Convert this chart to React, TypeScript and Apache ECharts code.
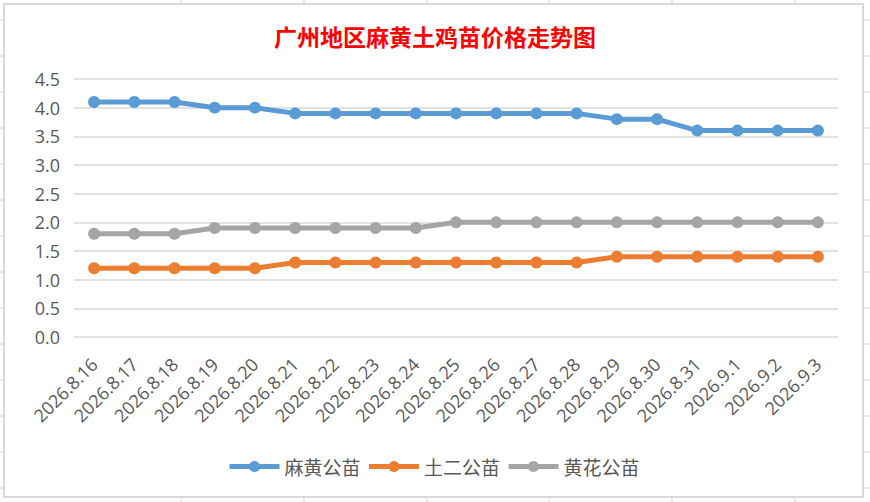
import React, { useEffect, useRef } from "react";
import * as echarts from "echarts";

const categories = [
  "2026.8.16", "2026.8.17", "2026.8.18", "2026.8.19", "2026.8.20", "2026.8.21",
  "2026.8.22", "2026.8.23", "2026.8.24", "2026.8.25", "2026.8.26", "2026.8.27",
  "2026.8.28", "2026.8.29", "2026.8.30", "2026.8.31", "2026.9.1", "2026.9.2", "2026.9.3",
];
const mahuang = [4.1, 4.1, 4.1, 4.0, 4.0, 3.9, 3.9, 3.9, 3.9, 3.9, 3.9, 3.9, 3.9, 3.8, 3.8, 3.6, 3.6, 3.6, 3.6];
const tuer = [1.2, 1.2, 1.2, 1.2, 1.2, 1.3, 1.3, 1.3, 1.3, 1.3, 1.3, 1.3, 1.3, 1.4, 1.4, 1.4, 1.4, 1.4, 1.4];
const huanghua = [1.8, 1.8, 1.8, 1.9, 1.9, 1.9, 1.9, 1.9, 1.9, 2.0, 2.0, 2.0, 2.0, 2.0, 2.0, 2.0, 2.0, 2.0, 2.0];
const seriesNames = ["麻黄公苗", "土二公苗", "黄花公苗"];
const colors = ["#5B9BD5", "#ED7D31", "#A5A5A5"];

const sheetCols = [181, 304, 427, 549, 672, 795];
const sheetRows = [20, 56, 92, 128, 164, 200, 236, 272, 308, 344, 380, 416, 452, 488];

export default function App() {
  const ref = useRef<HTMLDivElement>(null);
  useEffect(() => {
    if (!ref.current) return;
    const chart = echarts.init(ref.current, undefined, { renderer: "svg" });
    const gridLines: any[] = [];
    sheetCols.forEach((x) => {
      gridLines.push({ type: "line", shape: { x1: x, y1: 0, x2: x, y2: 4 }, style: { stroke: "#d4d4d4", lineWidth: 1 } });
      gridLines.push({ type: "line", shape: { x1: x, y1: 498, x2: x, y2: 502 }, style: { stroke: "#d4d4d4", lineWidth: 1 } });
    });
    sheetRows.forEach((y) => {
      gridLines.push({ type: "line", shape: { x1: 0, y1: y, x2: 3, y2: y }, style: { stroke: "#d4d4d4", lineWidth: 1 } });
      gridLines.push({ type: "line", shape: { x1: 864, y1: y, x2: 870, y2: y }, style: { stroke: "#d4d4d4", lineWidth: 1 } });
    });
    const seriesData = [mahuang, tuer, huanghua];
    chart.setOption({
      animation: false,
      backgroundColor: "#ffffff",
      color: colors,
      title: {
        text: "广州地区麻黄土鸡苗价格走势图",
        left: "center",
        top: 19,
        textStyle: { color: "#FF0000", fontSize: 23, fontWeight: "bold", fontFamily: "Noto Sans CJK SC" },
      },
      graphic: [
        ...gridLines,
        { type: "rect", shape: { x: 4, y: 4, width: 859, height: 493 }, style: { fill: "none", stroke: "#d9d9d9", lineWidth: 2 }, z: -1 },
      ],
      legend: {
        top: 452,
        left: 222,
        itemWidth: 50,
        itemHeight: 14,
        itemGap: 6,
        lineStyle: { width: 5 },
        textStyle: { color: "#595959", fontSize: 19, fontFamily: "Noto Sans CJK SC" },
        data: seriesNames,
      },
      grid: { left: 74, right: 32, top: 79, bottom: 165 },
      xAxis: {
        type: "category",
        data: categories,
        boundaryGap: true,
        axisLine: { show: false },
        axisTick: { show: false },
        axisLabel: { rotate: 45, margin: 24, color: "#595959", fontSize: 18, fontFamily: "Open Sans", interval: 0 },
      },
      yAxis: {
        type: "value",
        min: 0,
        max: 4.5,
        interval: 0.5,
        axisLine: { show: false },
        axisTick: { show: false },
        axisLabel: {
          color: "#595959",
          fontSize: 18,
          fontFamily: "Open Sans",
          margin: 14,
          formatter: (v: number) => v.toFixed(1),
        },
        splitLine: { lineStyle: { color: "#d9d9d9", width: 1.5 } },
      },
      series: seriesNames.map((name, i) => ({
        name,
        type: "line",
        data: seriesData[i],
        symbol: "circle",
        symbolSize: 12,
        lineStyle: { width: 5, color: colors[i] },
        itemStyle: { color: colors[i] },
      })),
    });
    return () => chart.dispose();
  }, []);
  return <div ref={ref} style={{ position: "fixed", left: 0, top: 0, width: 870, height: 502 }} />;
}
